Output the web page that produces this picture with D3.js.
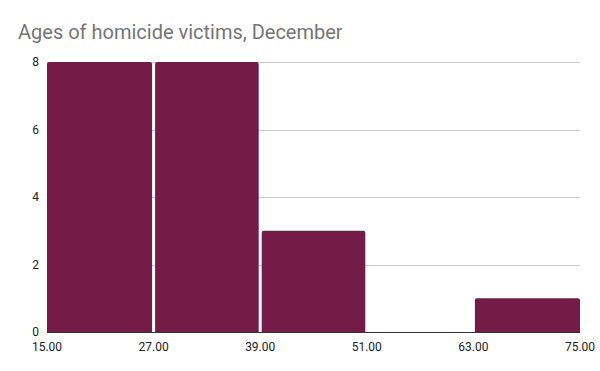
<!DOCTYPE html>
<html>
<head>
<meta charset="utf-8">
<script src="https://cdn.jsdelivr.net/npm/d3@7"></script>
<style>
body { margin: 0; background: #fff; }
text { font-family: Roboto, "Liberation Sans", Arial, sans-serif; }
</style>
</head>
<body>
<svg id="chart" width="600" height="371"></svg>
<script>
// histogram bins (age ranges) and counts
var binStarts = [15, 27, 39, 51, 63];
var binEnds = [27, 39, 51, 63, 75];
var counts = [8, 8, 3, 0, 1];
var xTicks = [15, 27, 39, 51, 63, 75];
var yTicks = [0, 2, 4, 6, 8];
var title = "Ages of homicide victims, December";

var svg = d3.select("#chart"),
    margin = {top: 62, right: 20, bottom: 39, left: 47},
    width = +svg.attr("width") - margin.left - margin.right,
    height = +svg.attr("height") - margin.top - margin.bottom;

var x = d3.scaleLinear().domain([15, 75]).range([0, width]);
var y = d3.scaleLinear().domain([0, 8]).range([height, 0]);

svg.append("text")
    .attr("x", 18)
    .attr("y", 39)
    .attr("fill", "#757575")
    .style("font-size", "20px")
    .text(title);

var g = svg.append("g")
    .attr("transform", "translate(" + margin.left + "," + margin.top + ")");

// gridlines
g.selectAll(".grid")
    .data(yTicks.filter(function(d) { return d > 0; }))
    .enter().append("line")
      .attr("x1", 0)
      .attr("x2", width)
      .attr("y1", function(d) { return Math.round(y(d)) + 0.5; })
      .attr("y2", function(d) { return Math.round(y(d)) + 0.5; })
      .attr("stroke", "#cccccc");

// y labels
g.selectAll(".ylab")
    .data(yTicks)
    .enter().append("text")
      .attr("x", -8)
      .attr("y", function(d) { return y(d); })
      .attr("dy", "0.35em")
      .attr("text-anchor", "end")
      .attr("fill", "#222")
      .style("font-size", "12px")
      .text(function(d) { return d; });

// bars
var bins = binStarts.map(function(s, i) { return {x0: s, x1: binEnds[i], n: counts[i]}; });
g.selectAll(".bar")
    .data(bins.filter(function(d) { return d.n > 0; }))
    .enter().append("rect")
      .attr("x", function(d) { return x(d.x0) + (d.x0 > 15 ? 1.5 : 0); })
      .attr("width", function(d) { return x(d.x1) - x(d.x0) - (d.x0 > 15 ? 1.5 : 0) - (d.x1 < 75 ? 1.5 : 0); })
      .attr("y", function(d) { return y(d.n); })
      .attr("height", function(d) { return height - y(d.n) + 2; })
      .attr("rx", 2)
      .attr("fill", "#741b47");

// baseline
g.append("line")
    .attr("x1", 0)
    .attr("x2", width)
    .attr("y1", height + 0.5)
    .attr("y2", height + 0.5)
    .attr("stroke", "#333")
    .attr("stroke-width", 1);
g.append("rect")
    .attr("x", 0).attr("y", height + 1)
    .attr("width", width).attr("height", 3)
    .attr("fill", "#fff");

// x labels
g.selectAll(".xlab")
    .data(xTicks)
    .enter().append("text")
      .attr("x", function(d) { return x(d); })
      .attr("y", height + 19)
      .attr("text-anchor", "middle")
      .attr("fill", "#222")
      .style("font-size", "12px")
      .text(function(d) { return d3.format(".2f")(d); });
</script>
</body>
</html>
